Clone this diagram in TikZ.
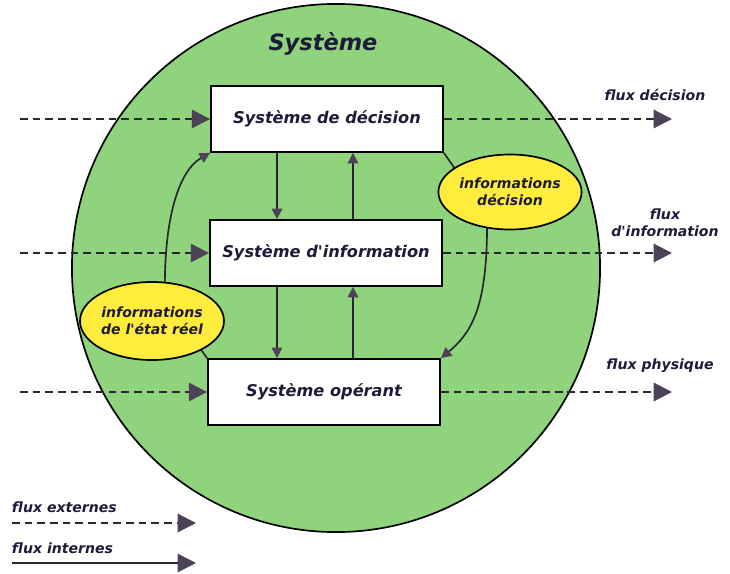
\documentclass[tikz,border=0pt]{standalone}
\usepackage{fontspec}
\setmainfont{DejaVu Sans}[Ligatures=TeXOff]
\usetikzlibrary{arrows.meta,shapes.geometric}
\definecolor{vert}{RGB}{143,212,124}
\definecolor{jaune}{RGB}{255,236,60}
\definecolor{encre}{RGB}{30,27,58}
\definecolor{trait}{RGB}{40,38,48}
\definecolor{fleche}{RGB}{78,66,88}

\begin{document}
\begin{tikzpicture}[x=0.025cm,y=-0.025cm]
\tikzstyle{every node}=[font=\fontsize{10}{12}\selectfont\bfseries\itshape,text=encre]
\tikzstyle{boite}=[draw=black,line width=1.2pt,fill=white,minimum width=5.8cm,minimum height=1.65cm,font=\fontsize{11.5}{14}\selectfont\bfseries\itshape]
\tikzstyle{bulle}=[ellipse,draw=black,line width=1.2pt,fill=jaune,align=center,inner sep=0pt]
\tikzstyle{ext}=[trait,line width=1.5pt,dash pattern=on 5.5pt off 3.5pt,-{Triangle[length=13pt,width=13pt,color=fleche]}]
\tikzstyle{int}=[trait,line width=1.2pt,-{Triangle[length=7.5pt,width=7.5pt,color=fleche]}]
\useasboundingbox (0,0) rectangle (730,573);
\draw[fill=vert,line width=1.2pt] (336,268) circle (6.6cm);
\node (titre) at (323,44) {\fontsize{16}{18}\selectfont Système};
% les trois sous-systemes
\node[boite] (dec) at (327,119) {Système de décision};
\node[boite] (info) at (326,253) {Système d'information};
\node[boite] (op) at (324,392) {Système opérant};
% flux internes
\coordinate (bas) at (277,0);
\coordinate (haut) at (353,0);
\draw[int] (dec.south -| bas) -- (info.north -| bas);
\draw[int] (info.north -| haut) -- (dec.south -| haut);
\draw[int] (info.south -| bas) -- (op.north -| bas);
\draw[int] (op.north -| haut) -- (info.south -| haut);
\coordinate (g) at (165,300);
\coordinate (d) at (487,215);
\draw[int] (op.north west) -- (g) .. controls (163,215) and (180,170) .. (dec.south west);
\draw[int] (dec.south east) -- (d) .. controls (488,300) and (475,330) .. (op.north east);
\node[bulle,minimum width=3.375cm,minimum height=1.875cm] (ecdec) at (510,192) {informations\\décision};
\node[bulle,minimum width=3.425cm,minimum height=1.95cm] (etat) at (152,321) {informations\\de l'état réel};
% flux externes
\coordinate (gauche) at (20,0);
\coordinate (droite) at (672,0);
\foreach \b in {dec,info,op}{
  \draw[ext] (\b.west -| gauche) -- (\b.west);
  \draw[ext] (\b.east) -- (\b.east -| droite);
}
\node (fdec) at (655,95) {flux décision};
\node[align=center] (finfo) at (665,223) {flux\\d'information};
\node (fphy) at (660,366) {flux physique};
% legende
\node[anchor=west] (lext) at (7,507) {flux externes};
\coordinate (e1) at (12,523);
\coordinate (e2) at (196,523);
\draw[ext] (e1) -- (e2);
\node[anchor=west] (lint) at (7,548) {flux internes};
\coordinate (i1) at (12,563);
\coordinate (i2) at (196,563);
\draw[int,-{Triangle[length=13pt,width=13pt,color=fleche]}] (i1) -- (i2);
\end{tikzpicture}
\end{document}
